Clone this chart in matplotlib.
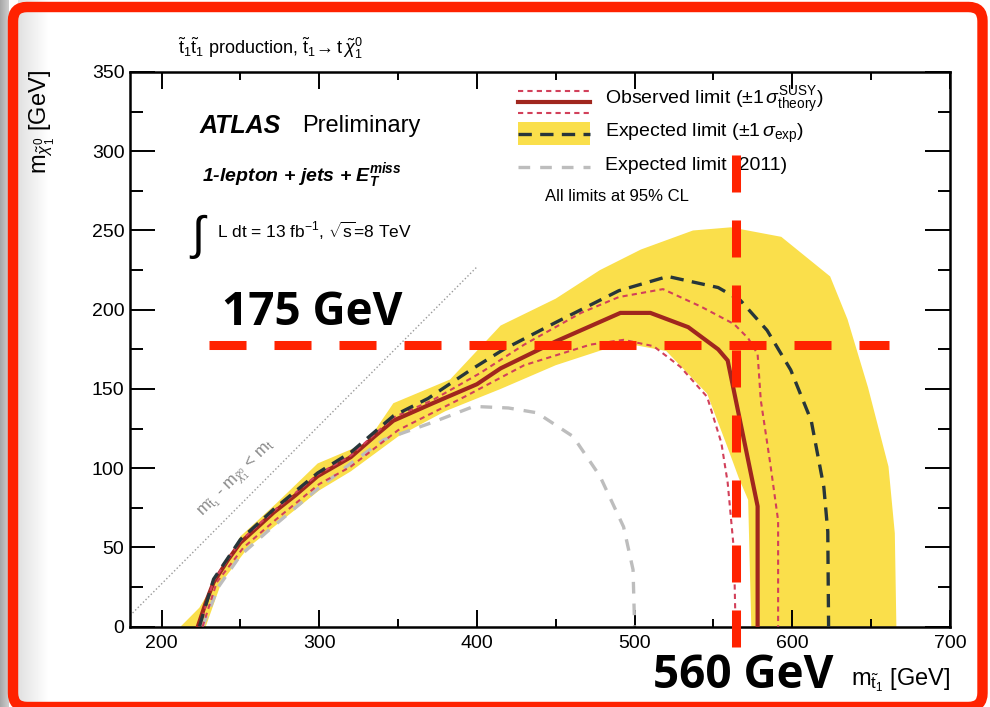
"""
Limite de exclusão stop -> top + neutralino (ATLAS 1-lepton, 13 fb-1, 8 TeV),
com as linhas-guia em vermelho desenhadas por cima.
"""

import numpy as np
import matplotlib
matplotlib.use("Agg")
import matplotlib.pyplot as plt
from matplotlib.patches import FancyBboxPatch, Rectangle
from matplotlib.transforms import IdentityTransform

plt.rcParams["font.family"] = ["Liberation Sans", "DejaVu Sans"]
plt.rcParams["mathtext.fontset"] = "custom"
plt.rcParams["mathtext.rm"] = "Liberation Sans"
plt.rcParams["mathtext.it"] = "Liberation Sans:italic"
plt.rcParams["mathtext.bf"] = "Liberation Sans:bold"
plt.rcParams["mathtext.bfit"] = "Liberation Sans:bold:italic"
plt.rcParams["mathtext.sf"] = "Liberation Sans"

# Dados (m_stop, m_neutralino) em GeV
obs_x = [223, 228, 233, 242, 250, 260, 271, 285, 299, 320, 335, 347, 372, 400, 415, 450, 491, 510, 534, 553, 559, 578, 578]
obs_y = [0, 15, 28, 42, 53, 62, 72, 83, 95, 107, 120, 130, 141, 153, 163, 180, 198, 198, 189, 175, 168, 76, 0]

theo_up_x = [224, 233, 250, 271, 299, 320, 347, 372, 402, 430, 466, 490, 518, 542, 563, 572, 578, 580, 586, 591, 591]
theo_up_y = [0, 29, 54, 73, 96, 108, 132, 143, 160, 178, 198, 208, 213, 202, 191, 182, 172, 143, 103, 67, 0]

theo_dn_x = [226, 235, 252, 273, 300, 320, 350, 392, 430, 472, 493, 512, 529, 546, 555, 559, 563, 564]
theo_dn_y = [0, 28, 50, 68, 90, 101, 124, 145, 165, 178, 181, 177, 164, 145, 116, 91, 48, 0]

exp_x = [224, 233, 250, 271, 299, 320, 347, 369, 396, 417, 450, 490, 521, 553, 567, 584, 599, 612, 620, 622.5, 623]
exp_y = [0, 30, 55, 74, 97, 110, 133, 144, 162, 175, 192, 212, 221, 214, 206, 187, 162, 130, 88, 60, 0]

band_up_x = [212, 224, 235, 250, 273, 299, 330, 347, 383, 415, 450, 478, 504, 537, 561, 593, 624, 635, 648, 661, 665, 666]
band_up_y = [0, 12, 30, 57, 78, 103, 116, 141, 156, 190, 207, 225, 238, 250, 252, 246, 221, 194, 151, 101, 59, 0]

band_dn_x = [228, 238, 255, 275, 300, 320, 350, 380, 415, 450, 493, 520, 546, 559, 566, 572, 574]
band_dn_y = [0, 28, 50, 66, 86, 98, 120, 136, 150, 165, 179, 174, 147, 113, 94, 80, 0]

old_x = [226, 236, 250, 267, 299, 320, 341, 372, 398, 420, 438, 461, 478, 493, 499, 500]
old_y = [0, 25, 45, 60, 87, 103, 118, 129, 139, 138, 135, 120, 95, 63, 36, 0]

# linha cinemática m_stop - m_lsp = m_top
diag_x = [180, 400]
diag_y = [7, 227]

# linhas-guia vermelhas (posição)
guide_stop = 564
guide_lsp = 178
guide_h_range = [230, 661]
guide_v_range = [-13, 300]

COR_BANDA = "#FADF4B"
COR_OBS = "#A0261E"
COR_TEO = "#D2405A"
COR_ESP = "#27363A"
COR_2011 = "#BDBDBD"
COR_GUIA = "#FF2200"

fig = plt.figure(figsize=(9.9, 7.07), dpi=100, facecolor="white")

# fundo com leve degradê à esquerda
bg = fig.add_axes([0, 0, 1, 1], zorder=-10)
grad = np.ones(990)
grad[:9] = np.linspace(0.66, 0.80, 9)
grad[18:50] = np.linspace(0.88, 1.0, 32)
bg.imshow(np.tile(grad, (2, 1)), cmap="gray", vmin=0, vmax=1, aspect="auto",
          extent=[0, 1, 0, 1])
bg.axis("off")

ax = fig.add_axes([130 / 990, 1 - 626.7 / 707, 820 / 990, 554.7 / 707])
ax.set_xlim(180, 700)
ax.set_ylim(0, 350)

# banda esperada ±1σ
ax.fill(band_up_x + band_dn_x[::-1], band_up_y + band_dn_y[::-1],
        color=COR_BANDA, lw=0, zorder=1)
ax.plot(old_x, old_y, color=COR_2011, lw=2.4, dashes=(3.5, 3), zorder=2)
ax.plot(obs_x, obs_y, color=COR_OBS, lw=3, zorder=3, solid_joinstyle="miter")
ax.plot(theo_up_x, theo_up_y, color=COR_TEO, lw=1.5, dashes=(2.5, 2), zorder=4)
ax.plot(theo_dn_x, theo_dn_y, color=COR_TEO, lw=1.5, dashes=(2.5, 2), zorder=4)
ax.plot(exp_x, exp_y, color=COR_ESP, lw=2.4, dashes=(4, 2.5), zorder=5)
ax.plot(diag_x, diag_y, color="#999999", lw=1, ls=":", zorder=1)

ax.text(248, 93, r"m$_{\tilde{\mathrm{t}}_1}$ - m$_{\tilde{\chi}^0_1}$ < m$_\mathrm{t}$",
        rotation=45, color="#8a8a8a", fontsize=12, ha="center", va="center")

# eixos no estilo ROOT
for s in ax.spines.values():
    s.set_linewidth(1.8)
ax.set_xticks(np.arange(200, 701, 100))
ax.set_xticks(np.arange(250, 701, 100), minor=True)
ax.set_yticks(np.arange(0, 351, 50))
ax.set_yticks(np.arange(25, 351, 50), minor=True)
ax.tick_params(which="both", direction="in", top=True, right=True, width=1.4,
               labelsize=14)
ax.tick_params(axis="x", which="major", length=12, pad=6)
ax.tick_params(axis="x", which="minor", length=6)
ax.tick_params(axis="y", which="major", length=18, pad=4)
ax.tick_params(axis="y", which="minor", length=9)

fig.text(0.9596, 0.038, r"m$_{\tilde{\mathrm{t}}_1}$ [GeV]", ha="right", va="center",
         fontsize=17)
fig.text(0.043, 0.901, r"m$_{\tilde{\chi}^0_1}$ [GeV]", rotation=90, ha="center",
         va="top", fontsize=17)
fig.text(0.18, 0.932,
         r"$\tilde{\mathrm{t}}_1\tilde{\mathrm{t}}_1$ production, "
         r"$\tilde{\mathrm{t}}_1\!\rightarrow\mathrm{t}\,\tilde{\chi}^0_1$",
         ha="left", va="center", fontsize=13)

# textos ATLAS
ax.text(0.085, 0.903, "ATLAS", transform=ax.transAxes, fontsize=18,
        fontweight="bold", style="italic", va="center")
ax.text(0.21, 0.903, "Preliminary", transform=ax.transAxes, fontsize=17, va="center")
ax.text(0.088, 0.814, r"1-lepton + jets + $\mathbfit{E}_{\mathbfit{T}}^{\mathbfit{miss}}$",
        transform=ax.transAxes, fontsize=14, fontweight="bold", style="italic",
        va="center")
ax.text(0.075, 0.703, "\u222b", transform=ax.transAxes, fontsize=34, va="center")
ax.text(0.106, 0.713, r"L dt = 13 fb$^{-1}$, $\sqrt{\mathrm{s}}$=8 TeV",
        transform=ax.transAxes, fontsize=12.5, va="center")

# legenda desenhada à mão
lx = [0.473, 0.561]
ax.plot(lx, [0.966, 0.966], transform=ax.transAxes, color=COR_TEO, lw=1.5,
        dashes=(2.5, 2), clip_on=False)
ax.plot(lx, [0.946, 0.946], transform=ax.transAxes, color=COR_OBS, lw=3, clip_on=False)
ax.plot(lx, [0.926, 0.926], transform=ax.transAxes, color=COR_TEO, lw=1.5,
        dashes=(2.5, 2), clip_on=False)
ax.add_patch(Rectangle((0.473, 0.868), 0.088, 0.042, transform=ax.transAxes,
                       color=COR_BANDA, lw=0))
ax.plot(lx, [0.889, 0.889], transform=ax.transAxes, color=COR_ESP, lw=2.4,
        dashes=(4, 2.5), clip_on=False)
ax.plot(lx, [0.829, 0.829], transform=ax.transAxes, color=COR_2011, lw=2.4,
        dashes=(3.5, 3), clip_on=False)
ax.text(0.579, 0.949, r"Observed limit ($\pm1\,\sigma^{\mathrm{SUSY}}_{\mathrm{theory}}$)",
        transform=ax.transAxes, fontsize=14, va="center")
ax.text(0.579, 0.890, r"Expected limit ($\pm1\,\sigma_{\mathrm{exp}}$)",
        transform=ax.transAxes, fontsize=14, va="center")
ax.text(0.579, 0.832, "Expected limit (2011)", transform=ax.transAxes, fontsize=14,
        va="center")
ax.text(0.506, 0.776, "All limits at 95% CL", transform=ax.transAxes, fontsize=12,
        va="center")

# linhas-guia vermelhas
ax.plot(guide_h_range, [guide_lsp, guide_lsp], color=COR_GUIA, lw=6.5,
        dashes=(4.1, 3.1), solid_capstyle="butt", dash_capstyle="butt",
        clip_on=False, zorder=8)
ax.plot([guide_stop, guide_stop], guide_v_range, color=COR_GUIA, lw=6.5,
        dashes=(4.1, 3.1), dash_capstyle="butt", clip_on=False, zorder=8)
fig.text(222 / 990, 1 - 325 / 707, "175 GeV", fontsize=33, fontweight="bold",
         family="Open Sans", ha="left", va="baseline")
fig.text(653 / 990, 1 - 688 / 707, "560 GeV", fontsize=33, fontweight="bold",
         family="Open Sans", ha="left", va="baseline")

# moldura vermelha arredondada
fig.add_artist(FancyBboxPatch((13, 0), 969.5, 700,
                              boxstyle="round,pad=0,rounding_size=14",
                              lw=7.5, ec=COR_GUIA, fc="none",
                              transform=IdentityTransform()))

fig.savefig("out.png", dpi=100, facecolor="white")
